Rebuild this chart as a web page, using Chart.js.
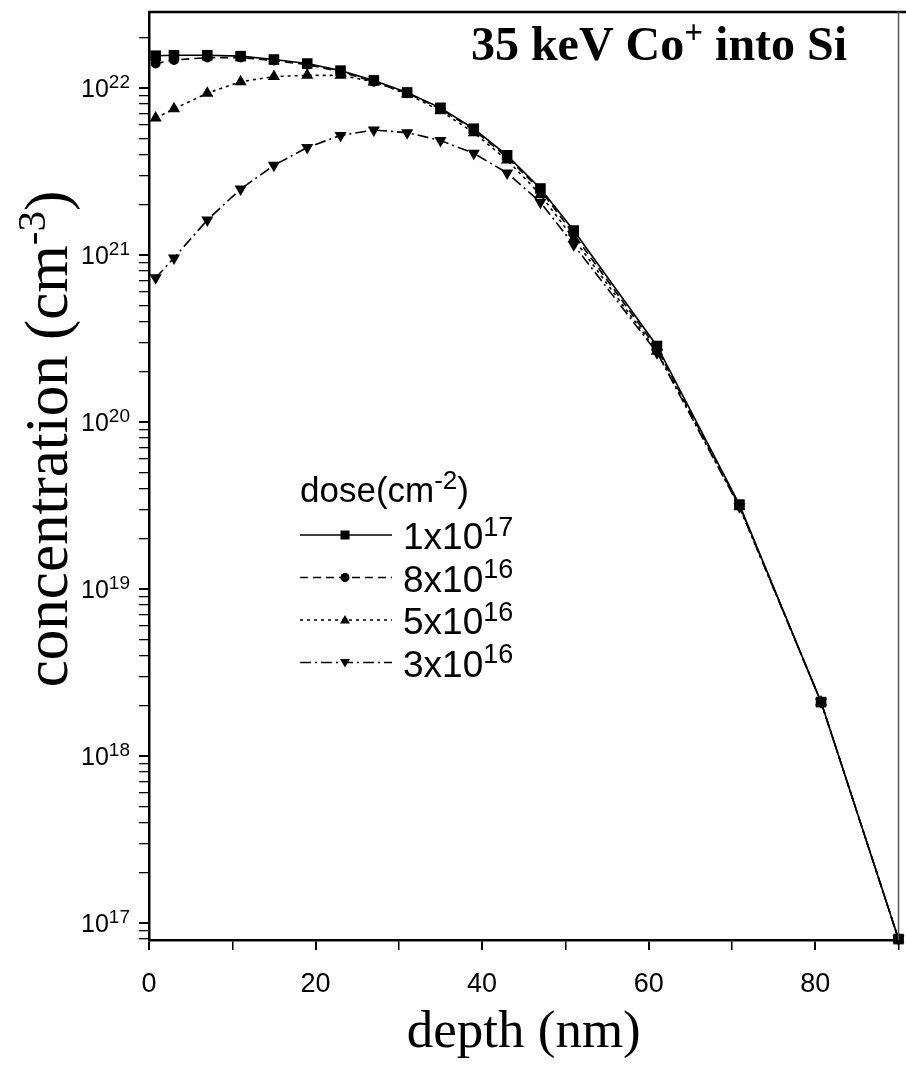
<!DOCTYPE html>
<html>
<head>
<meta charset="utf-8">
<script src="https://cdn.jsdelivr.net/npm/chart.js@4.4.1/dist/chart.umd.min.js"></script>
<style>
  body { margin: 0; background: #fff; }
  canvas { display: block; }
</style>
</head>
<body>
<canvas id="myChart" width="906" height="1071"></canvas>
<script>
// depth of the profile points (nm)
const depth = [0.8, 3, 7, 11, 15, 19, 23, 27, 31, 35, 39, 43, 47, 51, 61, 70.9, 80.7, 90];

// Co concentration (cm-3) for each dose
const dose1e17 = [1.56e22, 1.57e22, 1.57e22, 1.55e22, 1.48e22, 1.40e22, 1.27e22, 1.11e22, 9.4e21, 7.6e21, 5.7e21, 3.95e21, 2.5e21, 1.4e21, 2.85e20, 3.2e19, 2.1e18, 8e16];
const dose8e16 = [1.40e22, 1.47e22, 1.52e22, 1.52e22, 1.46e22, 1.38e22, 1.25e22, 1.09e22, 9.3e21, 7.5e21, 5.6e21, 3.85e21, 2.45e21, 1.33e21, 2.75e20, 3.15e19, 2.1e18, 8e16];
const dose5e16 = [6.6e21, 7.5e21, 9.3e21, 1.09e22, 1.17e22, 1.19e22, 1.19e22, 1.09e22, 9.2e21, 7.3e21, 5.4e21, 3.7e21, 2.3e21, 1.25e21, 2.65e20, 3.1e19, 2.1e18, 8e16];
const dose3e16 = [7.3e20, 9.6e20, 1.62e21, 2.48e21, 3.44e21, 4.4e21, 5.2e21, 5.6e21, 5.4e21, 4.85e21, 4.06e21, 3.1e21, 2.07e21, 1.15e21, 2.6e20, 3.1e19, 2.1e18, 8e16];

const doseBase = ["1x10", "8x10", "5x10", "3x10"];
const doseExp = ["17", "16", "16", "16"];

const yDecades = [16, 17, 18, 19, 20, 21, 22];
const yLabelExp = [17, 18, 19, 20, 21, 22];
const xTickLabels = [0, 20, 40, 60, 80];

const Y_MIN = 7.9e16;
const Y_MAX = 2.85e22;

// all log ticks 1..9 x 10^n inside the range
let yTickValues = [];
yDecades.forEach((e) => {
  for (let m = 1; m <= 9; m++) {
    let v = m * Math.pow(10, e);
    if (v >= Y_MIN && v <= Y_MAX) yTickValues.push(v);
  }
});

function isDecade(v) {
  let l = Math.log10(v);
  return Math.abs(l - Math.round(l)) < 1e-6;
}

function toPoints(arr) {
  return depth.map((x, i) => ({ x: x, y: arr[i] }));
}

// text with superscripts, parts = [[text, isSup], ...]
function drawRich(ctx, parts, x, y, size, family, weight, align, supScale) {
  let ss = supScale || 0.68;
  let widths = parts.map((p) => {
    ctx.font = `${weight} ${p[1] ? Math.round(size * ss) : size}px ${family}`;
    return ctx.measureText(p[0]).width;
  });
  let total = widths.reduce((a, b) => a + b, 0);
  let cx = x;
  if (align === "center") cx = x - total / 2;
  if (align === "right") cx = x - total;
  ctx.textAlign = "left";
  ctx.textBaseline = "alphabetic";
  parts.forEach((p, i) => {
    ctx.font = `${weight} ${p[1] ? Math.round(size * ss) : size}px ${family}`;
    ctx.fillText(p[0], cx, p[1] ? y - size * 0.36 : y);
    cx += widths[i];
  });
}

function drawMarker(ctx, style, rot, x, y, r) {
  ctx.beginPath();
  if (style === "rect") {
    ctx.rect(x - r, y - r, 2 * r, 2 * r);
  } else if (style === "circle") {
    ctx.arc(x, y, r, 0, Math.PI * 2);
  } else {
    let d = rot ? -1 : 1;
    ctx.moveTo(x, y - d * r * 1.1);
    ctx.lineTo(x - r * 1.1, y + d * r * 0.8);
    ctx.lineTo(x + r * 1.1, y + d * r * 0.8);
    ctx.closePath();
  }
  ctx.fill();
}

const SANS = "'Liberation Sans', Arial, sans-serif";
const SERIF = "'Liberation Serif', 'Times New Roman', serif";

const annotations = {
  id: "annotations",
  afterDraw(chart) {
    const ctx = chart.ctx;
    const area = chart.chartArea;
    const yScale = chart.scales.y;
    ctx.save();
    ctx.fillStyle = "#000";
    ctx.strokeStyle = "#000";

    // frame: top and right
    ctx.lineWidth = 2.5;
    ctx.beginPath();
    ctx.moveTo(area.left, area.top);
    ctx.lineTo(906, area.top);
    ctx.stroke();
    ctx.lineWidth = 1.5;
    ctx.strokeStyle = "#555";
    ctx.beginPath();
    ctx.moveTo(area.right, area.top);
    ctx.lineTo(area.right, area.bottom);
    ctx.stroke();
    ctx.strokeStyle = "#000";

    // y tick labels 10^n
    yLabelExp.forEach((e) => {
      let py = yScale.getPixelForValue(Math.pow(10, e));
      drawRich(ctx, [["10", false], [String(e), true]], 130, py + 9, 25, SANS, "normal", "right", 0.74);
    });

    // title
    drawRich(ctx, [["35 keV Co", false], ["+", true], [" into Si", false]], 659, 60, 48, SERIF, "bold", "center");

    // y axis title
    ctx.save();
    ctx.translate(67, 439);
    ctx.rotate(-Math.PI / 2);
    drawRich(ctx, [["concentration (cm", false], ["-3", true], [")", false]], 0, 0, 61, SERIF, "normal", "center");
    ctx.restore();

    // legend
    drawRich(ctx, [["dose(cm", false], ["-2", true], [")", false]], 300, 502, 35, SANS, "normal", "left", 0.74);
    chart.data.datasets.forEach((ds, i) => {
      let y = 535 + i * 42.5;
      ctx.lineWidth = 1.6;
      ctx.setLineDash(ds.borderDash || []);
      ctx.beginPath();
      ctx.moveTo(300, y);
      ctx.lineTo(392, y);
      ctx.stroke();
      ctx.setLineDash([]);
      drawMarker(ctx, ds.pointStyle, ds.pointRotation, 345, y, 4.5);
      drawRich(ctx, [[doseBase[i], false], [doseExp[i], true]], 403, y + 14, 37, SANS, "normal", "left", 0.74);
    });
    ctx.restore();
  },
};

const common = {
  borderColor: "#000",
  backgroundColor: "#000",
  borderWidth: 1.6,
  pointBorderWidth: 0,
  tension: 0,
  fill: false,
  clip: false,
};

new Chart("myChart", {
  type: "line",
  data: {
    datasets: [
      { ...common, label: "1x10^17", data: toPoints(dose1e17), pointStyle: "rect", pointRadius: 7.5, borderDash: [] },
      { ...common, label: "8x10^16", data: toPoints(dose8e16), pointStyle: "circle", pointRadius: 5, borderDash: [8, 5] },
      { ...common, label: "5x10^16", data: toPoints(dose5e16), pointStyle: "triangle", pointRadius: 7, borderDash: [3, 4] },
      { ...common, label: "3x10^16", data: toPoints(dose3e16), pointStyle: "triangle", pointRotation: 180, pointRadius: 7, borderDash: [11, 4, 2, 4] },
    ],
  },
  options: {
    responsive: false,
    animation: false,
    layout: { padding: { top: 12, right: 5, left: 0, bottom: 0 } },
    plugins: {
      legend: { display: false },
      tooltip: { enabled: false },
    },
    scales: {
      x: {
        type: "linear",
        min: 0,
        max: 90,
        afterFit: (axis) => {
          axis.height = 131;
          axis.paddingLeft = 0;
          axis.paddingRight = 0;
        },
        ticks: {
          stepSize: 10,
          padding: 18,
          color: "#000",
          maxRotation: 0,
          font: { family: SANS, size: 27 },
          callback: (v) => (xTickLabels.includes(v) ? String(v) : ""),
        },
        grid: {
          drawOnChartArea: false,
          drawTicks: true,
          tickLength: 10,
          color: "#000",
          lineWidth: (c) => (c.tick && xTickLabels.includes(c.tick.value) ? 2 : 1.5),
        },
        border: { display: true, color: "#000", width: 2.5 },
        title: {
          display: true,
          text: "depth (nm)",
          color: "#000",
          font: { family: SERIF, size: 53 },
          padding: { top: 0, bottom: 6 },
        },
      },
      y: {
        type: "logarithmic",
        min: Y_MIN,
        max: Y_MAX,
        afterFit: (axis) => {
          axis.width = 149;
          axis.paddingTop = 0;
          axis.paddingBottom = 0;
        },
        afterBuildTicks: (axis) => {
          axis.ticks = yTickValues.map((v) => ({ value: v, major: isDecade(v) }));
        },
        ticks: {
          display: false,
          autoSkip: false,
        },
        grid: {
          drawOnChartArea: false,
          drawTicks: true,
          tickLength: 10,
          color: "#000",
          lineWidth: (c) => (c.tick && isDecade(c.tick.value) ? 2 : 1.3),
        },
        border: { display: true, color: "#000", width: 2.5 },
      },
    },
  },
  plugins: [annotations],
});
</script>
</body>
</html>
